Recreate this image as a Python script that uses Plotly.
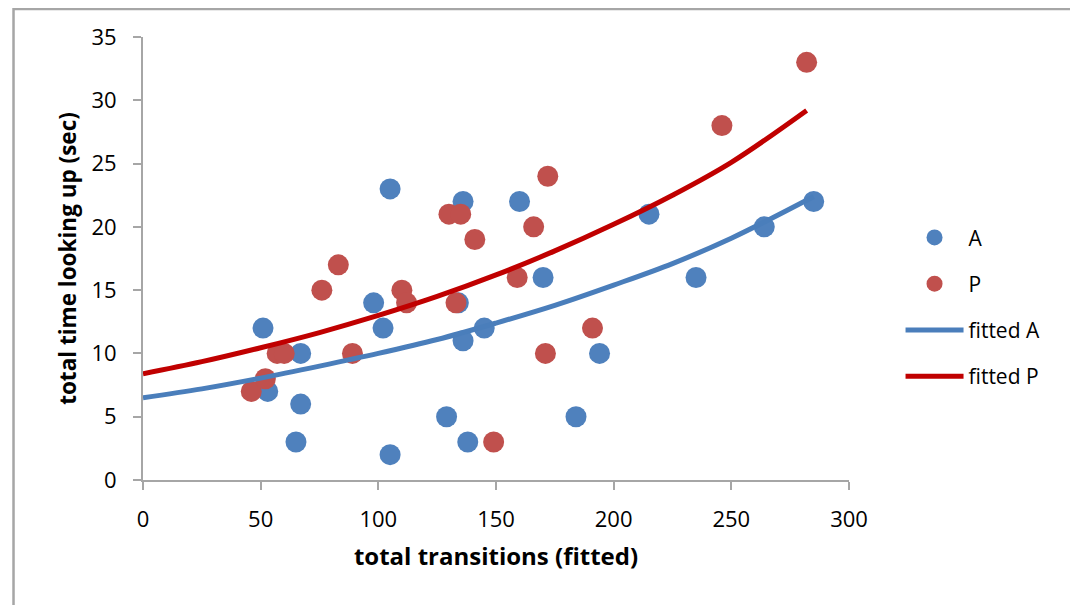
import plotly.graph_objects as go

# Scatter data
a_x = [51, 53, 67, 67, 65, 98, 102, 105, 105, 129, 134, 136, 136, 138, 145, 160, 170, 184, 194, 215, 235, 264, 285]
a_y = [12, 7, 10, 6, 3, 14, 12, 23, 2, 5, 14, 22, 11, 3, 12, 22, 16, 5, 10, 21, 16, 20, 22]

p_x = [46, 52, 57, 60, 76, 83, 89, 110, 112, 130, 135, 133, 141, 149, 159, 166, 171, 172, 191, 246, 282]
p_y = [7, 8, 10, 10, 15, 17, 10, 15, 14, 21, 21, 14, 19, 3, 16, 20, 10, 24, 12, 28, 33]

# Fitted curves, values
fa_x = [0, 25, 50, 75, 100, 125, 150, 175, 200, 225, 250, 285]
fa_y = [6.5, 7.2, 8.05, 9.0, 10.0, 11.1, 12.4, 13.8, 15.4, 17.1, 19.1, 22.4]
fp_x = [0, 25, 50, 75, 100, 125, 150, 175, 200, 225, 250, 282]
fp_y = [8.4, 9.35, 10.45, 11.65, 13.0, 14.5, 16.2, 18.1, 20.2, 22.5, 25.1, 29.2]

x_ticks = [0, 50, 100, 150, 200, 250, 300]
y_ticks = [0, 5, 10, 15, 20, 25, 30, 35]

FONT = "Open Sans"
BLUE = "#4F81BD"
RED = "#C0504D"
LINE_BLUE = "#4A7EBB"
LINE_RED = "#C00000"

fig = go.Figure()
fig.add_trace(go.Scatter(x=a_x, y=a_y, mode="markers", name="A", legendgroup="g1",
                         marker=dict(color=BLUE, size=21, line=dict(width=0))))
fig.add_trace(go.Scatter(x=p_x, y=p_y, mode="markers", name="P", legendgroup="g2",
                         marker=dict(color=RED, size=21, line=dict(width=0))))
fig.add_trace(go.Scatter(x=fa_x, y=fa_y, mode="lines", name="fitted A", legendgroup="g3",
                         line=dict(color=LINE_BLUE, width=5, shape="spline")))
fig.add_trace(go.Scatter(x=fp_x, y=fp_y, mode="lines", name="fitted P", legendgroup="g4",
                         line=dict(color=LINE_RED, width=5, shape="spline")))

axis_common = dict(showgrid=False, zeroline=False, showline=True, linecolor="#A6A6A6",
                   linewidth=2, ticks="outside", ticklen=8, tickwidth=2, tickcolor="#A6A6A6",
                   tickfont=dict(family=FONT, size=22, color="#000000"))

fig.update_layout(
    width=1070, height=597,
    paper_bgcolor="white", plot_bgcolor="white",
    margin=dict(l=135, r=229, t=29, b=125),
    font=dict(family=FONT, color="#000000"),
    xaxis=dict(range=[0, 300], tickvals=x_ticks, ticklabelstandoff=11, **axis_common,
               title=dict(text="<b>total transitions (fitted)</b>",
                          font=dict(family=FONT, size=24), standoff=16)),
    yaxis=dict(range=[0, 35], tickvals=y_ticks, ticklabelstandoff=12, **axis_common,
               title=dict(text="<b>total time looking up (sec)</b>",
                          font=dict(family=FONT, size=22.5), standoff=9)),
    legend=dict(x=1.073, y=0.39, xanchor="left", yanchor="middle",
                font=dict(family=FONT, size=21), tracegroupgap=16,
                itemwidth=58, bgcolor="rgba(0,0,0,0)"),
    showlegend=True,
)
fig.update_xaxes(automargin=False)
fig.update_yaxes(automargin=False)

# Outer chart frame
fig.add_shape(type="rect", xref="paper", yref="paper",
              x0=-0.1834, x1=1.3201, y0=-0.32, y1=1.063,
              line=dict(color="#A6A6A6", width=2.5), fillcolor="rgba(0,0,0,0)", layer="below")

fig.write_html("out.html")
